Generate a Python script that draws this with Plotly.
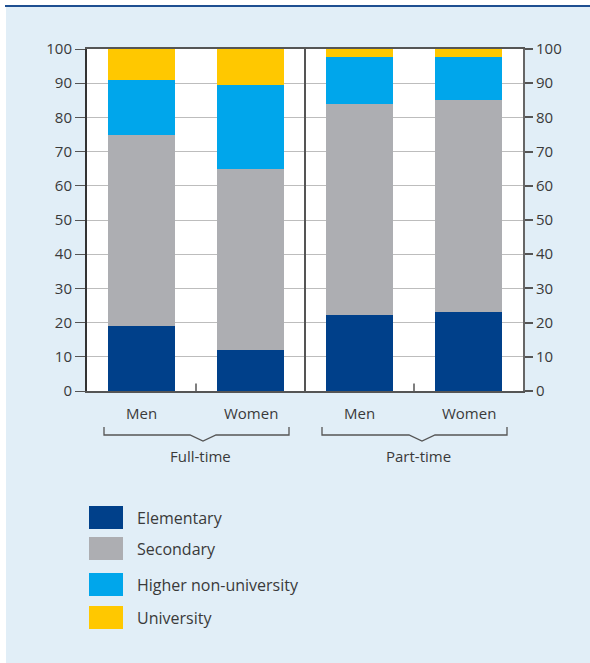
import plotly.graph_objects as go

# ---- data ----
categories = ["Men", "Women", "Men", "Women"]
groups = ["Full-time", "Part-time"]
series_names = ["Elementary", "Secondary", "Higher non-university", "University"]
elementary = [19.0, 12.0, 22.3, 23.1]
secondary = [55.9, 53.0, 61.7, 62.1]
higher_non_university = [16.1, 24.6, 13.6, 12.4]
university = [9.0, 10.4, 2.4, 2.4]
series_values = [elementary, secondary, higher_non_university, university]
colors = ["#00408A", "#ADAEB2", "#00A6EB", "#FFC800"]
y_ticks = list(range(0, 101, 10))

# ---- geometry helpers (screen pixel -> paper / data) ----
W, H = 590, 663
L, R, T, B = 87, 67, 49, 272
PW, PH = W - L - R, H - T - B


def fx(px):
    return (px - L) / PW


def fy(py):
    return (H - B - py) / PH


TEXT = "#3a3a3a"
AX = "#555555"
FONT = "Open Sans"

fig = go.Figure()
xs = list(range(len(categories)))
for name, vals, col in zip(series_names, series_values, colors):
    fig.add_trace(go.Bar(x=xs, y=vals, name=name, marker=dict(color=col, line=dict(width=0)),
                         width=0.61, showlegend=False))
# helper trace for the right axis
fig.add_trace(go.Scatter(x=[0], y=[0], yaxis="y2", mode="markers", marker=dict(opacity=0),
                         hoverinfo="skip", showlegend=False))

shapes = []
# white strips on left and top, dark blue top rule
shapes.append(dict(type="rect", xref="paper", yref="paper", x0=fx(0), x1=fx(6), y0=fy(H), y1=fy(0),
                   fillcolor="white", line=dict(width=0), layer="above"))
shapes.append(dict(type="rect", xref="paper", yref="paper", x0=fx(0), x1=fx(W), y0=fy(5), y1=fy(0),
                   fillcolor="white", line=dict(width=0), layer="above"))
shapes.append(dict(type="rect", xref="paper", yref="paper", x0=fx(5), x1=fx(W), y0=fy(7), y1=fy(5),
                   fillcolor="#1E4F91", line=dict(width=0), layer="above"))
# group divider and inner ticks
shapes.append(dict(type="line", xref="x", yref="y", x0=1.5, x1=1.5, y0=0, y1=100,
                   line=dict(color=AX, width=2), layer="above"))
for xt in (0.5, 2.5):
    shapes.append(dict(type="line", xref="x", yref="y", x0=xt, x1=xt, y0=0, y1=2.2,
                       line=dict(color=AX, width=1.5), layer="above"))
# brackets under groups
brackets = [(104, 289, 203), (322, 507, 422)]
for x0, x1, xn in brackets:
    pts = [(x0, 427), (x0, 435), (xn - 13, 435), (xn, 441), (xn + 13, 435), (x1, 435), (x1, 427)]
    path = "M " + " L ".join(f"{fx(px):.5f},{fy(py):.5f}" for px, py in pts)
    shapes.append(dict(type="path", xref="paper", yref="paper", path=path,
                       line=dict(color=AX, width=1.3), layer="above"))

annotations = []
for i, c in enumerate(categories):
    annotations.append(dict(x=i, y=fy(413), xref="x", yref="paper", text=c, showarrow=False,
                            font=dict(family=FONT, size=15, color=TEXT), xanchor="center", yanchor="middle"))
group_x = [200, 418]
for g, gx in zip(groups, group_x):
    annotations.append(dict(x=fx(gx), y=fy(456), xref="paper", yref="paper", text=g, showarrow=False,
                            font=dict(family=FONT, size=15, color=TEXT), xanchor="center", yanchor="middle"))
# manual legend
legend_tops = [506, 537, 573, 606]
for name, col, ty in zip(series_names, colors, legend_tops):
    shapes.append(dict(type="rect", xref="paper", yref="paper", x0=fx(89), x1=fx(123), y0=fy(ty + 23), y1=fy(ty),
                       fillcolor=col, line=dict(width=0), layer="above"))
    annotations.append(dict(x=fx(135), y=fy(ty + 12), xref="paper", yref="paper", text=name, showarrow=False,
                            font=dict(family=FONT, size=16, color=TEXT), xanchor="left", yanchor="middle"))

fig.update_layout(
    width=W, height=H,
    margin=dict(l=L, r=R, t=T, b=B, pad=0),
    paper_bgcolor="#E1EEF7", plot_bgcolor="white",
    barmode="stack",
    font=dict(family=FONT, size=15, color=TEXT),
    xaxis=dict(range=[-0.5, 3.5], showline=True, mirror=True, linecolor=AX, linewidth=2,
               showticklabels=False, ticks="", showgrid=False, zeroline=False, fixedrange=True),
    yaxis=dict(range=[0, 100], tickvals=y_ticks, ticks="outside", ticklen=10, tickcolor=AX, tickwidth=1,
               showline=True, linecolor="#333333", linewidth=2, showgrid=True, gridcolor="#BDBDBD", gridwidth=1,
               zeroline=False, tickfont=dict(family=FONT, size=15, color=TEXT)),
    yaxis2=dict(range=[0, 100], tickvals=y_ticks, overlaying="y", side="right", anchor="x",
                ticks="outside", ticklen=8, tickcolor=AX, tickwidth=1.5,
                showline=True, linecolor="#666666", linewidth=2, showgrid=False, zeroline=False,
                tickfont=dict(family=FONT, size=15, color=TEXT)),
    shapes=shapes, annotations=annotations, showlegend=False,
)

fig.write_html("out.html", config={"displayModeBar": False},
               post_script="document.body.style.margin='0';document.body.style.overflow='hidden';")
